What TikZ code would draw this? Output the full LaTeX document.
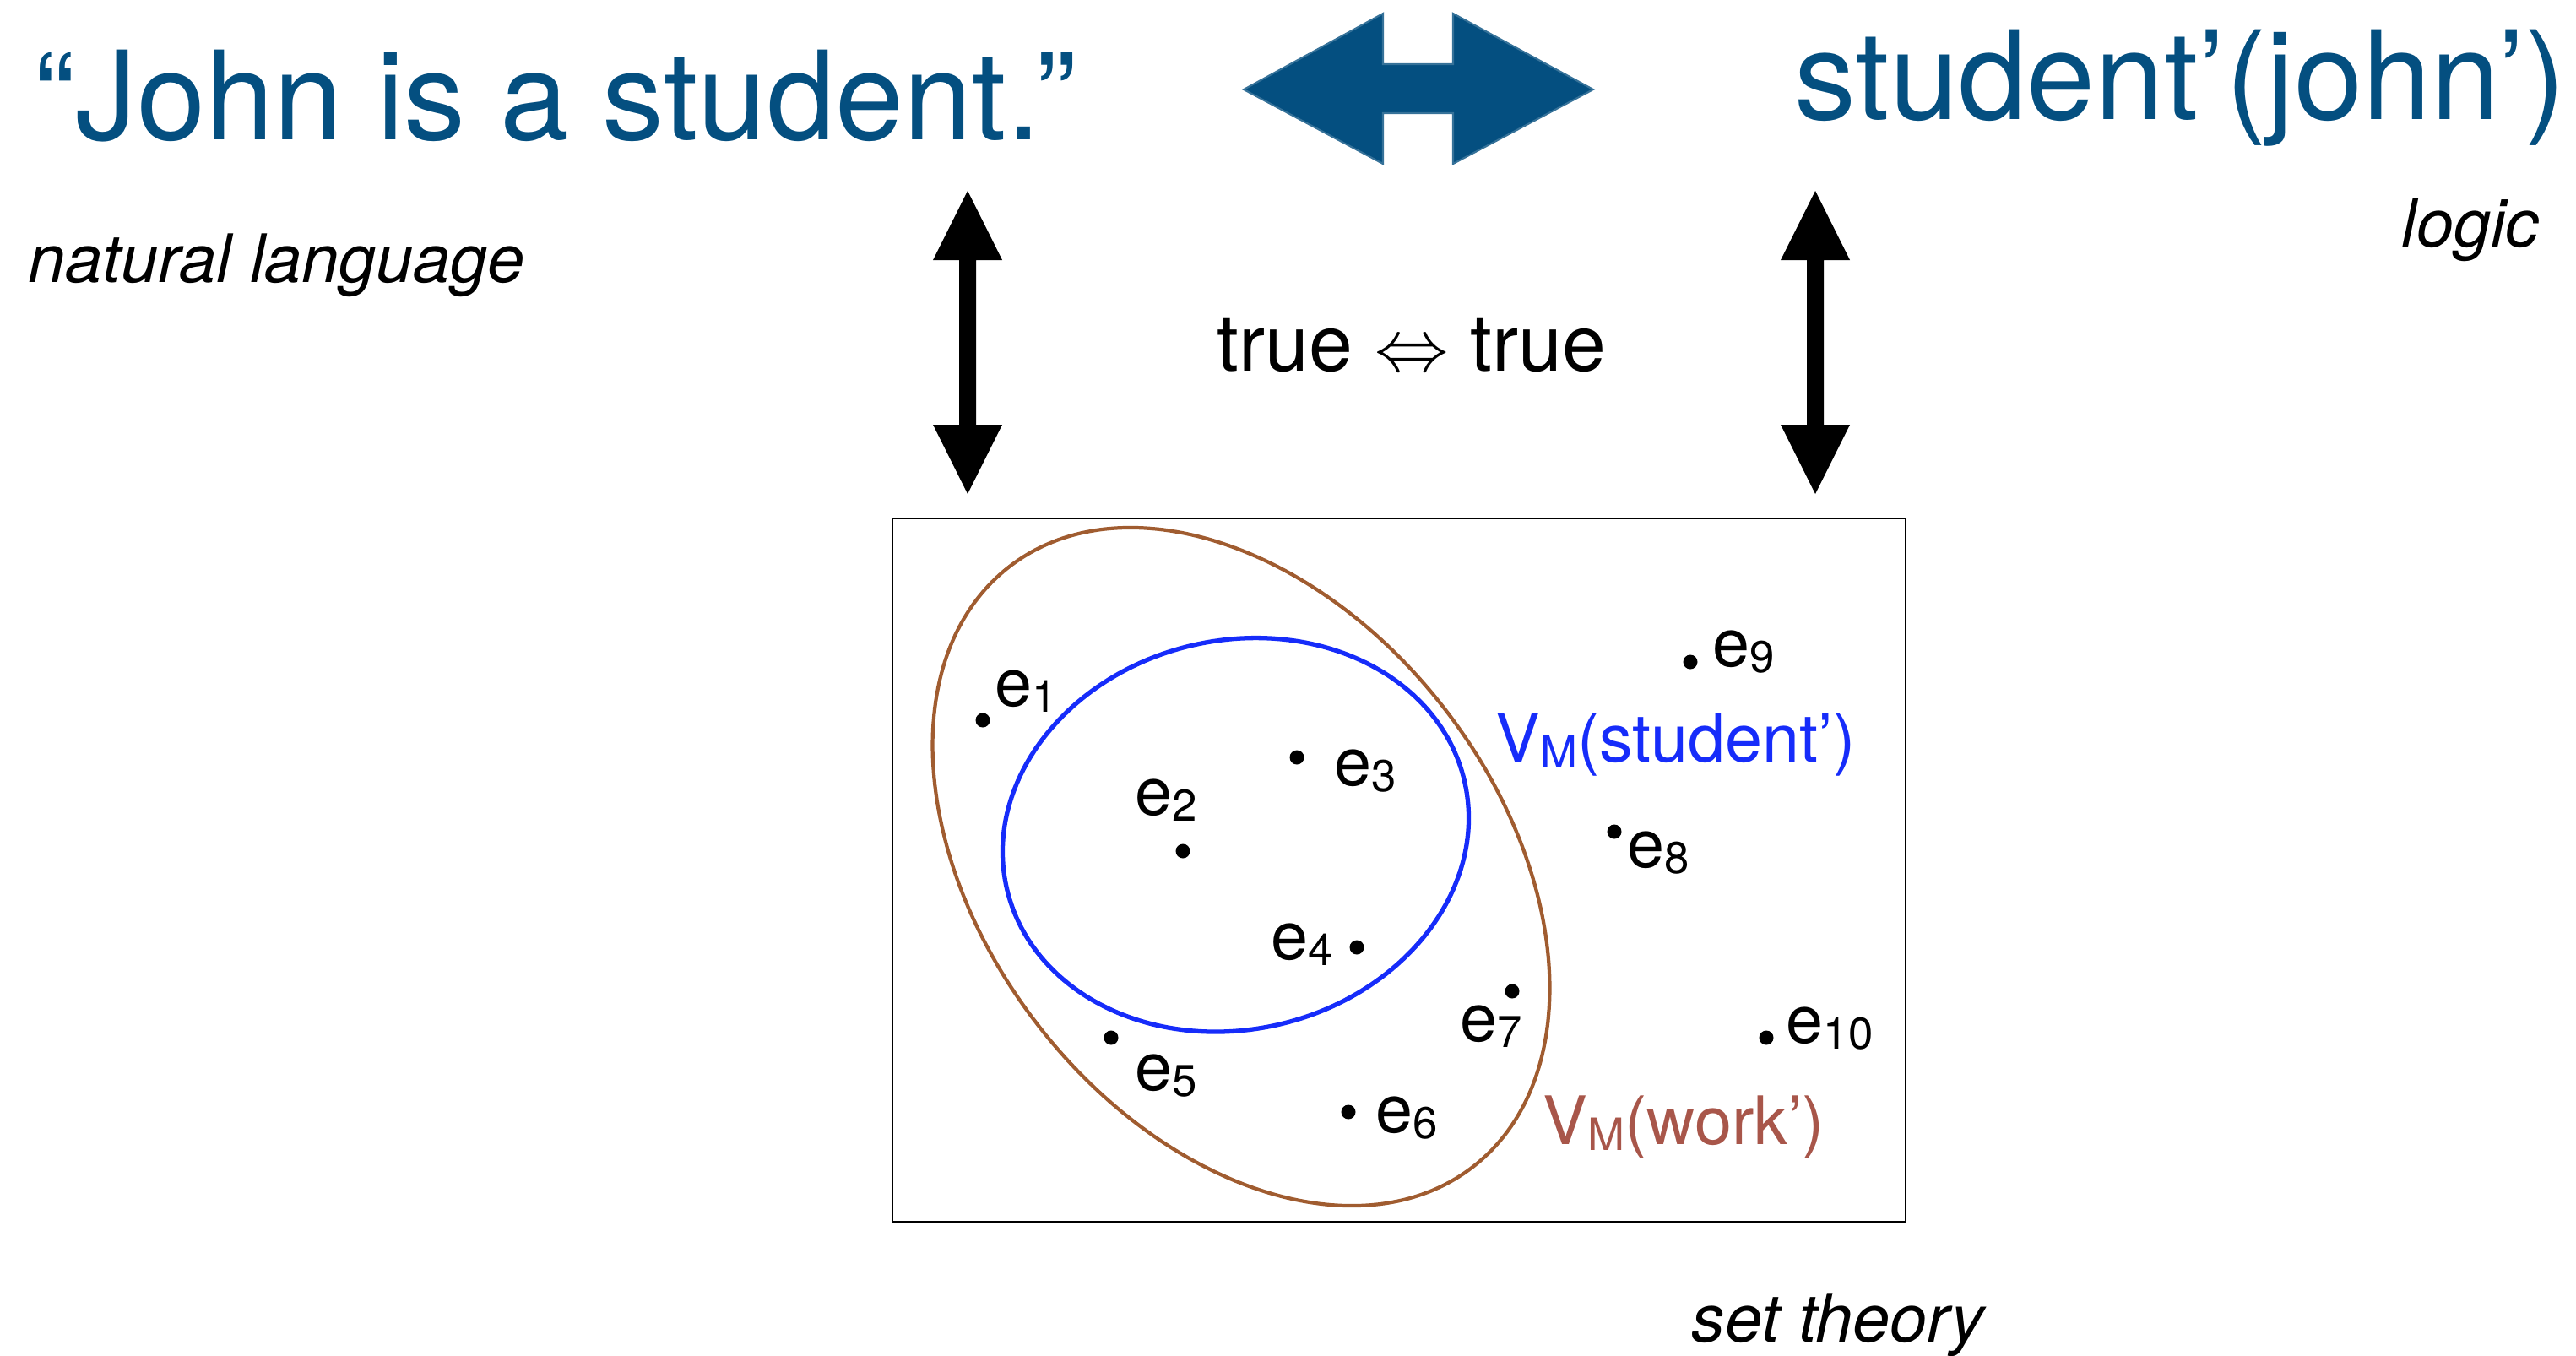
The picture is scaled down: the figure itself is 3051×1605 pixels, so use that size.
\documentclass[tikz,border=0pt]{standalone}
\usepackage{fontspec}
\setmainfont{TeX Gyre Heros}
\usepackage{tikz}

\definecolor{nlblue}{RGB}{4,79,128}
\definecolor{setblue}{RGB}{22,44,250}
\definecolor{workline}{RGB}{160,92,48}
\definecolor{worktext}{RGB}{168,86,74}

\newcommand{\lowix}[1]{\raisebox{-0.1em}{\fontsize{15}{18}\selectfont #1}}

\begin{document}
\begin{tikzpicture}[
    x=0.01cm, y=-0.01cm,
    big/.style={anchor=base west, inner sep=0, text=nlblue, font=\fontsize{41.5}{50}\selectfont},
    tag/.style={anchor=base west, inner sep=0, font=\fontsize{22.5}{27}\selectfont\itshape},
    elem/.style={anchor=base west, inner sep=0, font=\fontsize{22.5}{27}\selectfont},
    dot/.style={circle, fill, inner sep=0, minimum size=0.17cm},
    bigarrow/.style={fill=nlblue, draw=nlblue!80!white, line width=0.6pt},
    studentset/.style={draw=setblue, line width=1.5pt},
    workset/.style={draw=workline, line width=1.2pt}
]
    \useasboundingbox (0,0) rectangle (3051,1605);

    \node[big] (sentence) at (40,165) {“John is a student.”};
    \node[big, anchor=base east] (formula) at (3040,141) {student’(john’)};
    \node[tag] (nl) at (33,334) {natural language};
    \node[tag, anchor=base east] (lg) at (3008,292) {logic};
    \node[tag] (st) at (2003,1589) {set theory};
    \node[elem, anchor=base, font=\fontsize{26.5}{32}\selectfont] (truth) at (1672,439) {true $\Leftrightarrow$ true};

    % translation arrow
    \filldraw[bigarrow] (1473,106) -- (1638,16) -- (1638,76) -- (1721,76) -- (1721,16)
        -- (1887,106) -- (1721,194) -- (1721,134) -- (1638,134) -- (1638,194) -- cycle;

    % interpretation arrows
    \foreach \x in {1146,2150}
        \fill[shift={(\x,0)}] (0,226) -- (41,308) -- (10,308) -- (10,503) -- (41,503)
            -- (0,585) -- (-41,503) -- (-10,503) -- (-10,308) -- (-41,308) -- cycle;

    % model
    \node[draw, line width=0.6pt, inner sep=0, minimum width=12cm, minimum height=8.33cm] (model) at (1657,1030.5) {};

    \draw[workset, rotate around={-52.37:(1470,1026.5)}] (1470,1026.5) ellipse [x radius=449.1, y radius=305.1];
    \draw[studentset, rotate around={13.5:(1463.5,988.8)}] (1463.5,988.8) ellipse [x radius=278.4, y radius=230.3];

    \foreach \n/\dx/\dy/\lx/\ly in {1/1164/853/1178/836, 2/1401/1008/1344/965, 3/1536/897/1580/930,
        4/1607/1122/1505/1136, 5/1316/1229/1344/1291, 6/1597/1317/1629/1341, 7/1791/1174/1729/1233,
        8/1912/985/1927/1027, 9/2002/784/2028/789, 10/2092/1229/2115/1235} {
        \node[dot] (e\n) at (\dx,\dy) {};
        \node[elem] (lab\n) at (\lx,\ly) {e\lowix{\n}};
    }

    \node[elem, text=setblue] (studentlab) at (1771,902) {V\lowix{M}(student’)};
    \node[elem, text=worktext] (worklab) at (1827,1355) {V\lowix{M}(work’)};
\end{tikzpicture}
\end{document}
